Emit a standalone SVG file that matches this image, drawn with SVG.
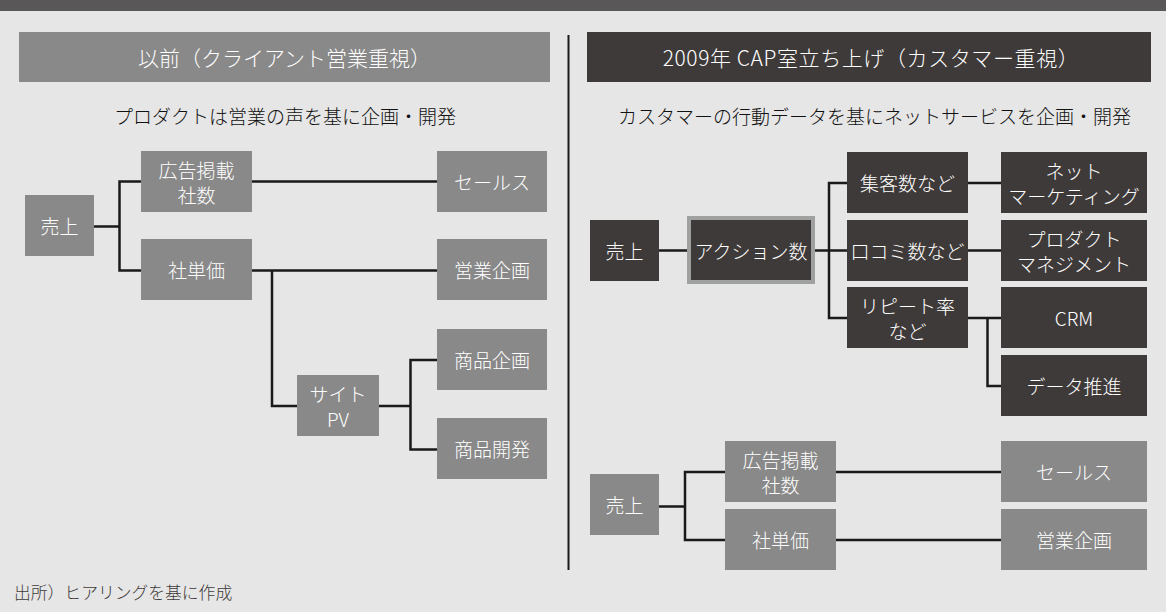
<svg xmlns="http://www.w3.org/2000/svg" width="1166" height="612" viewBox="0 0 1166 612">
<style>
text{font-family:"Noto Sans CJK JP","Noto Sans",sans-serif;text-anchor:middle;dominant-baseline:central;font-weight:300}
.g{fill:#898989}
.d{fill:#3e3a39}
.t{fill:#ffffff;font-size:19px}
.h{fill:#ffffff;font-size:21px}
.s{fill:#111111;font-size:19px}
.c{fill:none;stroke:#1a1a1a;stroke-width:2.5}
</style>
<rect x="0" y="0" width="1166" height="612" fill="#e6e6e6"/>
<rect x="0" y="0" width="1166" height="11" fill="#595757"/>

<g id="hdr-left"><rect class="g" x="19" y="32" width="531" height="50"/><text class="h" x="284.5" y="57">以前（クライアント営業重視）</text></g>
<g id="hdr-right"><rect class="d" x="587" y="32" width="564" height="50"/><text class="h" x="871" y="57" letter-spacing="0.6">2009年 CAP室立ち上げ（カスタマー重視）</text></g>
<text class="s" x="285" y="115">プロダクトは営業の声を基に企画・開発</text>
<text class="s" x="874.5" y="115" font-size="19.6">カスタマーの行動データを基にネットサービスを企画・開発</text>
<line x1="568.5" y1="35" x2="568.5" y2="570" stroke="#1a1a1a" stroke-width="2"/>

<g id="connectors">
<path class="c" d="M94 226.5H119.5M141 181.5H119.5V270.5H141M252 181.5H437M252 270.5H437M272 270.5V406H297M379 406H410.5M437 360H410.5V449.5H437"/>
<path class="c" d="M659 250.5H687M815 250.5H829M847 183H829V318H847M829 250.5H847M968 183H1001M968 250.5H1001M968 318H1001M987.5 318V386H1001"/>
<path class="c" d="M659 506.5H685M725 472H685V540H725M836 472H1001M836 540H1001"/>
</g>

<g id="l-uriage"><rect class="g" x="25" y="195" width="69" height="61"/><text class="t" x="59.5" y="225.5">売上</text></g>
<g id="l-koukoku"><rect class="g" x="141" y="151" width="111" height="61"/><text class="t" x="196.5" y="169">広告掲載</text><text class="t" x="196.5" y="194">社数</text></g>
<g id="l-shatanka"><rect class="g" x="141" y="239" width="111" height="61"/><text class="t" x="196.5" y="269.5">社単価</text></g>
<g id="l-sales"><rect class="g" x="437" y="151" width="110" height="61"/><text class="t" x="492" y="181.5">セールス</text></g>
<g id="l-eigyou"><rect class="g" x="437" y="239" width="110" height="61"/><text class="t" x="492" y="269.5">営業企画</text></g>
<g id="l-sitepv"><rect class="g" x="297" y="375" width="82" height="61"/><text class="t" x="338" y="393">サイト</text><text class="t" x="338" y="418">PV</text></g>
<g id="l-shouhinkikaku"><rect class="g" x="437" y="329" width="110" height="61"/><text class="t" x="492" y="359.5">商品企画</text></g>
<g id="l-shouhinkaihatsu"><rect class="g" x="437" y="418" width="110" height="61"/><text class="t" x="492" y="448.5">商品開発</text></g>

<g id="r-uriage"><rect class="d" x="590" y="220" width="69" height="61"/><text class="t" x="624.5" y="250.5">売上</text></g>
<g id="r-action"><rect class="d" x="689" y="218" width="124" height="64" stroke="#9fa0a0" stroke-width="4"/><text class="t" x="751" y="250.5">アクション数</text></g>
<g id="r-shuukyaku"><rect class="d" x="847" y="152" width="121" height="61"/><text class="t" x="907.5" y="182.5">集客数など</text></g>
<g id="r-kuchikomi"><rect class="d" x="847" y="220" width="121" height="61"/><text class="t" x="907.5" y="250.5">口コミ数など</text></g>
<g id="r-repeat"><rect class="d" x="847" y="287" width="121" height="61"/><text class="t" x="907.5" y="305">リピート率</text><text class="t" x="907.5" y="330">など</text></g>
<g id="r-netmkt"><rect class="d" x="1001" y="152" width="146" height="61"/><text class="t" x="1074" y="170">ネット</text><text class="t" x="1074" y="195">マーケティング</text></g>
<g id="r-pm"><rect class="d" x="1001" y="220" width="146" height="61"/><text class="t" x="1074" y="238">プロダクト</text><text class="t" x="1074" y="263">マネジメント</text></g>
<g id="r-crm"><rect class="d" x="1001" y="287" width="146" height="61"/><text class="t" x="1074" y="317.5">CRM</text></g>
<g id="r-data"><rect class="d" x="1001" y="355" width="146" height="61"/><text class="t" x="1074" y="385.5">データ推進</text></g>

<g id="b-uriage"><rect class="g" x="590" y="474" width="69" height="61"/><text class="t" x="624.5" y="504.5">売上</text></g>
<g id="b-koukoku"><rect class="g" x="725" y="441" width="111" height="61"/><text class="t" x="780.5" y="459">広告掲載</text><text class="t" x="780.5" y="484">社数</text></g>
<g id="b-shatanka"><rect class="g" x="725" y="509" width="111" height="61"/><text class="t" x="780.5" y="539.5">社単価</text></g>
<g id="b-sales"><rect class="g" x="1001" y="441" width="146" height="61"/><text class="t" x="1074" y="471.5">セールス</text></g>
<g id="b-eigyou"><rect class="g" x="1001" y="509" width="146" height="61"/><text class="t" x="1074" y="539.5">営業企画</text></g>

<text x="14" y="592" font-size="16.8" fill="#3e3a39" style="text-anchor:start">出所）ヒアリングを基に作成</text>
</svg>
